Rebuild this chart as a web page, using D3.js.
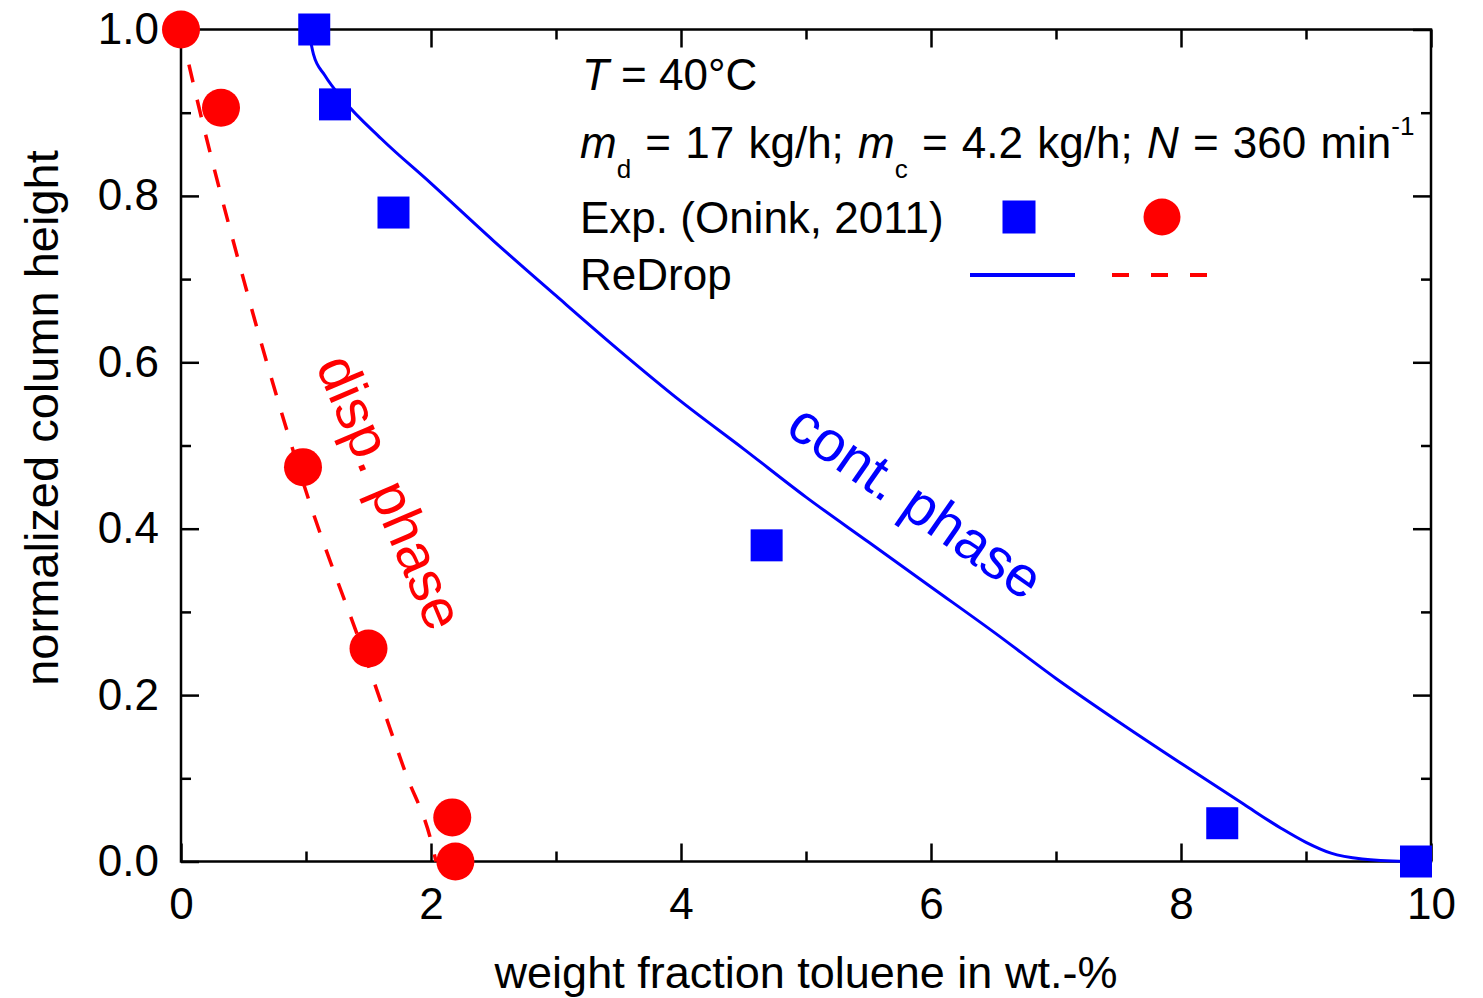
<!DOCTYPE html>
<html lang="en">
<head>
  <meta charset="UTF-8">
  <title>column height profile</title>
  <style>
    html, body { margin: 0; padding: 0; background: #fff; }
    svg text { font-family: "Liberation Sans", Arial, sans-serif; }
  </style>
</head>
<body>
  <svg id="chart"></svg>

  <script src="https://d3js.org/d3.v7.min.js"></script>
  <script>
    // experiments (Onink, 2011)
    var contExpX = [1.066, 1.232, 1.70, 4.685, 8.33, 9.88];
    var contExpY = [1.0, 0.910, 0.780, 0.380, 0.046, 0.0];
    var dispExpX = [0.0, 0.32, 0.976, 1.50, 2.17, 2.195];
    var dispExpY = [1.0, 0.906, 0.474, 0.256, 0.053, 0.0];

    // ReDrop simulation
    var contSimX = [1.02, 1.06, 1.15, 1.3, 1.6, 2.0, 2.5, 3.0, 3.5, 4.0, 4.5, 5.0, 5.5, 6.0, 6.5,
      7.0, 7.5, 8.0, 8.5, 8.8, 9.0, 9.2, 9.45, 9.8];
    var contSimY = [1.0, 0.97, 0.945, 0.915, 0.869, 0.815, 0.746, 0.680, 0.615, 0.553, 0.496, 0.438, 0.384, 0.330, 0.276,
      0.220, 0.168, 0.118, 0.069, 0.040, 0.023, 0.010, 0.003, 0.0];
    var dispSimX = [0.0, 0.06, 0.5, 1.0, 1.5, 1.8, 2.0, 2.04];
    var dispSimY = [1.0, 0.96, 0.70, 0.445, 0.235, 0.105, 0.025, 0.0];

    var xMajor = [0, 2, 4, 6, 8, 10];
    var xMinor = [1, 3, 5, 7, 9];
    var yMajor = [0, 0.2, 0.4, 0.6, 0.8, 1.0];
    var yMinor = [0.1, 0.3, 0.5, 0.7, 0.9];

    var W = 1483, H = 998;
    var margin = { top: 29.5, right: 52, bottom: 136.5, left: 181 };
    var width = W - margin.left - margin.right;
    var height = H - margin.top - margin.bottom;

    var blue = "#0000ff", red = "#ff0000";

    var svg = d3.select("#chart").attr("width", W).attr("height", H);
    var g = svg.append("g")
      .attr("transform", "translate(" + margin.left + "," + margin.top + ")");

    var x = d3.scaleLinear().domain([0, 10]).range([0, width]);
    var y = d3.scaleLinear().domain([0, 1]).range([height, 0]);

    /* ticks, all pointing inwards */
    function addAxis(axis, tx, ty, vals, size, labels) {
      var a = g.append("g")
        .attr("transform", "translate(" + tx + "," + ty + ")")
        .call(axis.tickValues(vals).tickSizeInner(-size).tickSizeOuter(0)
          .tickFormat(labels ? labels : ""));
      a.select(".domain").remove();
      a.selectAll("line").attr("stroke", "#000").attr("stroke-width", 2.5);
      return a;
    }

    var xb = addAxis(d3.axisBottom(x).tickPadding(26), 0, height, xMajor, 18, d3.format("d"));
    addAxis(d3.axisBottom(x), 0, height, xMinor, 10);
    addAxis(d3.axisTop(x), 0, 0, xMajor, 18);
    addAxis(d3.axisTop(x), 0, 0, xMinor, 10);
    var yl = addAxis(d3.axisLeft(y).tickPadding(22), 0, 0, yMajor, 18, d3.format(".1f"));
    addAxis(d3.axisLeft(y), 0, 0, yMinor, 10);
    addAxis(d3.axisRight(y), width, 0, yMajor, 18);
    addAxis(d3.axisRight(y), width, 0, yMinor, 10);

    xb.selectAll("text").attr("font-size", 44).attr("fill", "#000")
      .style("font-family", "'Liberation Sans', Arial, sans-serif");
    yl.selectAll("text").attr("font-size", 44).attr("fill", "#000")
      .style("font-family", "'Liberation Sans', Arial, sans-serif");

    g.append("rect")
      .attr("width", width).attr("height", height)
      .attr("fill", "none").attr("stroke", "#000").attr("stroke-width", 2.5);

    /* axis titles */
    svg.append("text")
      .attr("x", 806)
      .attr("y", 988)
      .attr("text-anchor", "middle")
      .attr("font-size", 45)
      .text("weight fraction toluene in wt.-%");

    svg.append("text")
      .attr("transform", "translate(58," + 418 + ") rotate(-90)")
      .attr("text-anchor", "middle")
      .attr("font-size", 47)
      .text("normalized column height");

    /* simulation curves */
    var line = d3.line()
      .x(function (d) { return x(d[0]); })
      .y(function (d) { return y(d[1]); })
      .curve(d3.curveMonotoneX);

    g.append("path")
      .datum(d3.zip(dispSimX, dispSimY))
      .attr("d", line)
      .attr("fill", "none")
      .attr("stroke", red)
      .attr("stroke-width", 3.5)
      .attr("stroke-dasharray", "18,18");

    g.append("path")
      .datum(d3.zip(contSimX, contSimY))
      .attr("d", line)
      .attr("fill", "none")
      .attr("stroke", blue)
      .attr("stroke-width", 3);

    /* experiments */
    var sq = 32;
    g.selectAll("rect.cont")
      .data(d3.zip(contExpX, contExpY))
      .enter()
      .append("rect")
      .attr("class", "cont")
      .attr("x", function (d) { return x(d[0]) - sq / 2; })
      .attr("y", function (d) { return y(d[1]) - sq / 2; })
      .attr("width", sq)
      .attr("height", sq)
      .attr("fill", blue);

    g.selectAll("circle.disp")
      .data(d3.zip(dispExpX, dispExpY))
      .enter()
      .append("circle")
      .attr("class", "disp")
      .attr("cx", function (d) { return x(d[0]); })
      .attr("cy", function (d) { return y(d[1]); })
      .attr("r", 19)
      .attr("fill", red);

    /* phase labels */
    svg.append("text")
      .attr("transform", "translate(386,494) rotate(67)")
      .attr("text-anchor", "middle")
      .attr("dy", "0.26em")
      .attr("font-size", 57)
      .attr("fill", red)
      .text("disp. phase");

    svg.append("text")
      .attr("transform", "translate(913,505) rotate(35)")
      .attr("text-anchor", "middle")
      .attr("dy", "0.26em")
      .attr("font-size", 57)
      .attr("fill", blue)
      .text("cont. phase");

    /* conditions + legend */
    var fs = 44;
    var t1 = svg.append("text").attr("x", 582).attr("y", 90).attr("font-size", fs);
    t1.append("tspan").attr("font-style", "italic").text("T");
    t1.append("tspan").text(" = 40°C");

    var t2 = svg.append("text").attr("x", 580).attr("y", 158).attr("font-size", fs)
      .attr("word-spacing", 2);
    t2.append("tspan").attr("font-style", "italic").text("m");
    t2.append("tspan").attr("font-size", 26).attr("dy", 20).text("d");
    t2.append("tspan").attr("dy", -20).text(" = 17 kg/h; ");
    t2.append("tspan").attr("font-style", "italic").text("m");
    t2.append("tspan").attr("font-size", 26).attr("dy", 20).text("c");
    t2.append("tspan").attr("dy", -20).text(" = 4.2 kg/h; ");
    t2.append("tspan").attr("font-style", "italic").text("N");
    t2.append("tspan").text(" = 360 min");
    t2.append("tspan").attr("font-size", 26).attr("dy", -23).text("-1");

    svg.append("text").attr("x", 580).attr("y", 233).attr("font-size", fs)
      .text("Exp. (Onink, 2011)");
    svg.append("text").attr("x", 580).attr("y", 290).attr("font-size", fs)
      .text("ReDrop");

    svg.append("rect")
      .attr("x", 1019 - 16.5).attr("y", 217 - 16.5)
      .attr("width", 33).attr("height", 33)
      .attr("fill", blue);
    svg.append("circle")
      .attr("cx", 1162).attr("cy", 217).attr("r", 18.5)
      .attr("fill", red);

    svg.append("line")
      .attr("x1", 970).attr("x2", 1075).attr("y1", 275).attr("y2", 275)
      .attr("stroke", blue).attr("stroke-width", 4);
    svg.append("line")
      .attr("x1", 1112).attr("x2", 1207).attr("y1", 275).attr("y2", 275)
      .attr("stroke", red).attr("stroke-width", 4)
      .attr("stroke-dasharray", "17,22");
  </script>
</body>
</html>
